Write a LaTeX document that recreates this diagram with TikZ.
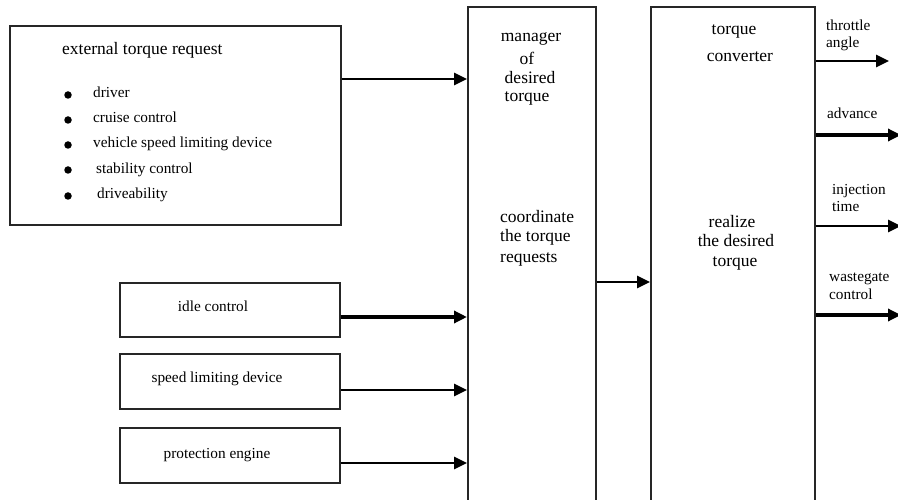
\documentclass[tikz,border=0pt]{standalone}
\usepackage{fontspec}
\setmainfont{Liberation Serif}
\usetikzlibrary{arrows.meta}
\begin{document}
\begin{tikzpicture}[x=1pt,y=-1pt,
  box/.style={draw=black!85,line width=1.7pt,rectangle,inner sep=0pt,anchor=north west},
  big/.style={font=\fontsize{17.5}{19.5}\selectfont,inner sep=0pt},
  small/.style={font=\fontsize{15.3}{17}\selectfont,inner sep=0pt},
  conn/.style={line width=2.8pt,-{Triangle[length=13pt,width=12pt]}},
  dot/.style={circle,fill=black,inner sep=0pt,minimum size=7.5pt}]
\useasboundingbox (0,0) rectangle (898,500);
\fill[white] (0,0) rectangle (898,500);
% boxes
\node[box,minimum width=331pt,minimum height=199pt] (ext) at (9,25) {};
\node[box,minimum width=128pt,minimum height=500pt] (mgr) at (467,6) {};
\node[box,minimum width=164pt,minimum height=500pt] (cvt) at (650,6) {};
\node[box,minimum width=220pt,minimum height=54pt] (idle) at (119,282) {};
\node[box,minimum width=220pt,minimum height=55pt] (spd) at (119,353) {};
\node[box,minimum width=220pt,minimum height=55pt] (prot) at (119,427) {};
% external text
\node[big,anchor=base west] (ttl) at (62,55) {external torque request};
\node[dot] (b1) at (68,95) {};
\node[dot] (b2) at (68,120) {};
\node[dot] (b3) at (68,145) {};
\node[dot] (b4) at (68,170) {};
\node[dot] (b5) at (68,196) {};
\node[small,anchor=base west] (t1) at (93,98) {driver};
\node[small,anchor=base west] (t2) at (93,123) {cruise control};
\node[small,anchor=base west] (t3) at (93,148) {vehicle speed limiting device};
\node[small,anchor=base west] (t4) at (96,174) {stability control};
\node[small,anchor=base west] (t5) at (97,199) {driveability};
% small boxes text
\node[small,anchor=base] (ti) at (213,311) {idle control};
\node[small,anchor=base] (ts) at (217,382) {speed limiting device};
\node[small,anchor=base] (tp) at (217,458) {protection engine};
% manager text
\node[big,anchor=base] (m1) at (531,42) {manager};
\node[big,anchor=base] (m2) at (527,65) {of};
\node[big,anchor=base] (m3) at (530,84) {desired};
\node[big,anchor=base] (m4) at (527,102) {torque};
\node[big,anchor=base west] (c1) at (500,223) {coordinate};
\node[big,anchor=base west] (c2) at (500,242) {the torque};
\node[big,anchor=base west] (c3) at (500,262) {requests};
% converter text
\node[big,anchor=base] (v1) at (734,35) {torque};
\node[big,anchor=base] (v2) at (740,62) {converter};
\node[big,anchor=base] (r1) at (732,228) {realize};
\node[big,anchor=base] (r2) at (736,247) {the desired};
\node[big,anchor=base] (r3) at (735,266) {torque};
% output labels
\node[small,anchor=base west] (o1a) at (826,31) {throttle};
\node[small,anchor=base west] (o1b) at (826,48) {angle};
\node[small,anchor=base west] (o2) at (827,119) {advance};
\node[small,anchor=base west] (o3a) at (832,195) {injection};
\node[small,anchor=base west] (o3b) at (832,212) {time};
\node[small,anchor=base west] (o4a) at (829,281) {wastegate};
\node[small,anchor=base west] (o4b) at (829,299) {control};
% free ends
\coordinate (e1) at (889,61);
\coordinate (e2) at (901,135);
\coordinate (e3) at (901,226);
\coordinate (e4) at (901,315);
% connectors
\draw[conn] (ext.east |- 0,79) -- (mgr.west |- 0,79);
\draw[conn,line width=3.8pt] (idle.east |- 0,317) -- (mgr.west |- 0,317);
\draw[conn] (spd.east |- 0,390) -- (mgr.west |- 0,390);
\draw[conn] (prot.east |- 0,463) -- (mgr.west |- 0,463);
\draw[conn] (mgr.east |- 0,282) -- (cvt.west |- 0,282);
\draw[conn] (cvt.east |- e1) -- (e1);
\draw[conn,line width=3.6pt] (cvt.east |- e2) -- (e2);
\draw[conn] (cvt.east |- e3) -- (e3);
\draw[conn,line width=3.6pt] (cvt.east |- e4) -- (e4);
\end{tikzpicture}
\end{document}
